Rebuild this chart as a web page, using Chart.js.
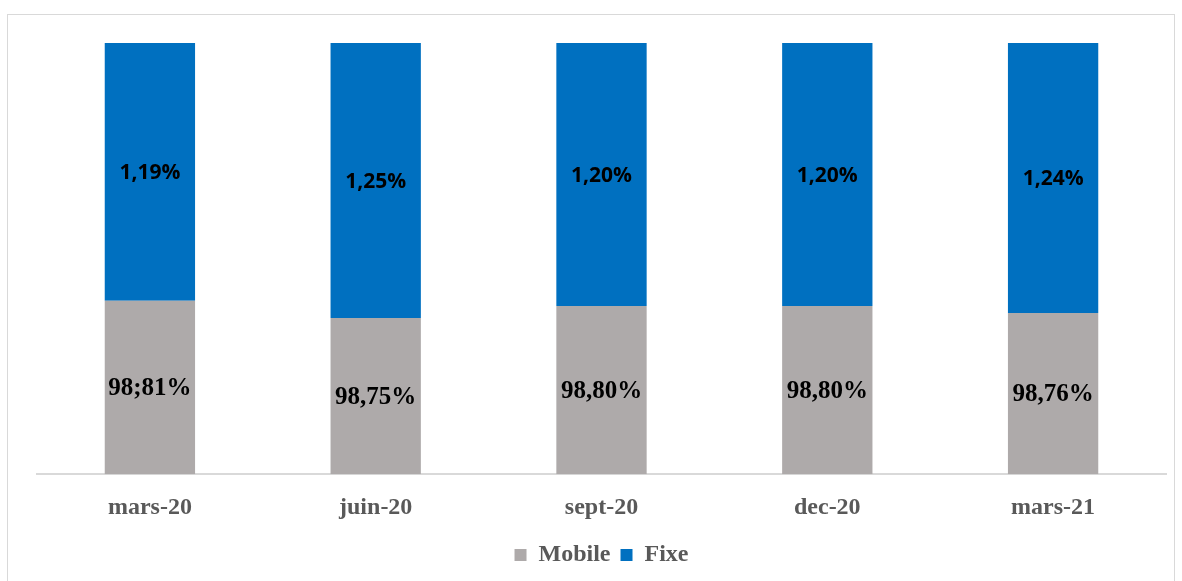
<!DOCTYPE html>
<html>
<head>
<meta charset="utf-8">
<script src="https://cdn.jsdelivr.net/npm/chart.js@4.4.1/dist/chart.umd.min.js"></script>
<style>
  html, body { margin: 0; padding: 0; background: #ffffff; }
  #wrap { position: relative; width: 1182px; height: 581px; overflow: hidden; }
  #frame { position: absolute; left: 7px; top: 14px; width: 1168px; height: 600px; border: 1px solid #d9d9d9; box-sizing: border-box; }
  canvas { position: absolute; left: 0; top: 0; }
</style>
</head>
<body>
<div id="wrap">
  <div id="frame"></div>
  <canvas id="c" width="1182" height="581"></canvas>
</div>
<script>
// Categories
const categories = ['mars-20', 'juin-20', 'sept-20', 'dec-20', 'mars-21'];
// Visual segment heights (as drawn in the reference, in % of bar)
const mobileValues = [40.2, 36.2, 39.0, 39.0, 37.4];
const fixeValues = [59.8, 63.8, 61.0, 61.0, 62.6];
// Printed labels (as shown in the reference)
const mobileLabels = ['98;81%', '98,75%', '98,80%', '98,80%', '98,76%'];
const fixeLabels = ['1,19%', '1,25%', '1,20%', '1,20%', '1,24%'];
const seriesNames = ['Mobile', 'Fixe'];

const labelPlugin = {
  id: 'segLabels',
  afterDatasetsDraw(chart) {
    const ctx = chart.ctx;
    const sets = [
      { idx: 0, labels: mobileLabels, font: 'bold 25px "Liberation Serif", "Times New Roman", serif' },
      { idx: 1, labels: fixeLabels, font: 'bold 21px "Open Sans", "DejaVu Sans", sans-serif' }
    ];
    ctx.save();
    ctx.fillStyle = '#000000';
    ctx.textAlign = 'center';
    ctx.textBaseline = 'middle';
    sets.forEach(s => {
      const meta = chart.getDatasetMeta(s.idx);
      ctx.font = s.font;
      meta.data.forEach((bar, i) => {
        const p = bar.getProps(['x', 'y', 'base'], true);
        ctx.fillText(s.labels[i], p.x, (p.y + p.base) / 2 + 1);
      });
    });
    ctx.restore();
  }
};

new Chart(document.getElementById('c'), {
  type: 'bar',
  data: {
    labels: categories,
    datasets: [
      { label: seriesNames[0], data: mobileValues, backgroundColor: '#AEAAAA', borderWidth: 0 },
      { label: seriesNames[1], data: fixeValues, backgroundColor: '#0070C0', borderWidth: 0 }
    ]
  },
  options: {
    responsive: false,
    animation: false,
    devicePixelRatio: 1,
    layout: { padding: { top: 43, left: 37, right: 16, bottom: 4 } },
    datasets: { bar: { barPercentage: 0.4, categoryPercentage: 1.0 } },
    scales: {
      x: {
        stacked: true,
        grid: { display: false },
        border: { display: true, color: '#d9d9d9', width: 2 },
        ticks: {
          color: '#595959',
          padding: 11,
          font: { family: '"Liberation Serif", "Times New Roman", serif', size: 24, weight: 'bold' }
        }
      },
      y: {
        stacked: true,
        display: false,
        min: 0,
        max: 100
      }
    },
    plugins: {
      legend: {
        position: 'bottom',
        labels: {
          color: '#595959',
          boxWidth: 12,
          boxHeight: 12,
          padding: 10,
          font: { family: '"Liberation Serif", "Times New Roman", serif', size: 24, weight: 'bold' }
        }
      },
      tooltip: { enabled: false }
    }
  },
  plugins: [labelPlugin]
});
</script>
</body>
</html>
